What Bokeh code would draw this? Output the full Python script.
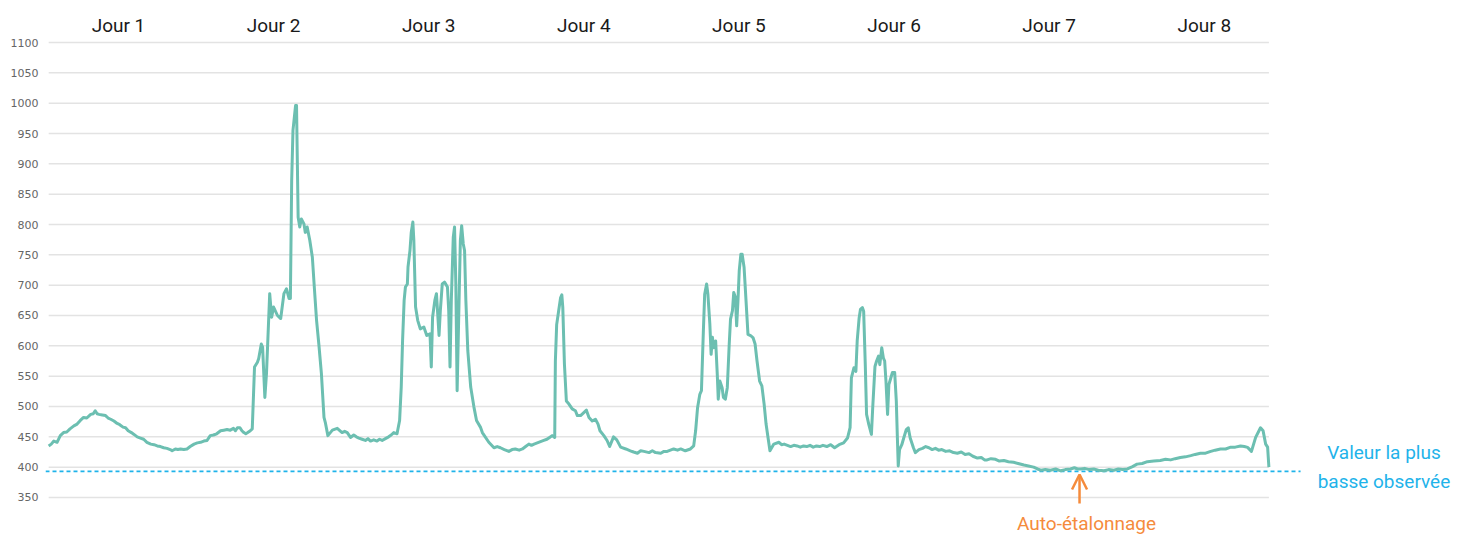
from bokeh.plotting import figure
from bokeh.models import Range1d, FixedTicker, Label, Arrow, OpenHead, ColumnDataSource
from bokeh.embed import file_html
from bokeh.resources import INLINE

# ---------------- data ----------------
day_labels = ["Jour 1", "Jour 2", "Jour 3", "Jour 4", "Jour 5", "Jour 6", "Jour 7", "Jour 8"]
day_centers = [12, 36, 60, 84, 108, 132, 156, 180]   # hours (middle of each day)
y_ticks = [350, 400, 450, 500, 550, 600, 650, 700, 750, 800, 850, 900, 950, 1000, 1050, 1100]

lowest_observed = 393
lowest_label = ["Valeur la plus", "basse observée"]
calibration_hour = 160.7
calibration_label = "Auto-étalonnage"

hours = [
    1.2, 1.6, 2.0, 2.5, 3.0, 3.5, 4.0, 4.5, 5.1, 5.6, 6.1, 6.6, 7.1, 7.7, 8.1, 8.4, 8.7, 9.0, 9.5, 10.0,
    10.4, 10.8, 11.3, 11.8, 12.2, 12.7, 13.1, 13.5, 14.0, 14.4, 14.9, 15.4, 15.9, 16.4, 17.0, 17.5, 18.0,
    18.5, 19.0, 19.5, 20.0, 20.3, 20.8, 21.2, 21.6, 22.1, 22.6, 23.1, 23.7, 24.2, 24.7, 25.2, 25.7, 26.2,
    26.7, 27.2, 27.8, 28.3, 28.8, 29.3, 29.8, 30.1, 30.4, 30.8, 31.1, 31.4, 31.7, 32.0, 32.4, 32.7,
    33.05, 33.5, 33.7, 34.1, 34.3, 34.65, 34.9, 35.4, 35.7, 36.0, 36.6, 37.1, 37.6, 38.0, 38.4, 38.6,
    38.8, 39.0, 39.4, 39.55, 39.8, 40.05, 40.3, 40.7, 40.9, 41.2, 41.6, 42.0, 42.3, 42.65, 43.0, 43.4,
    43.8, 44.0, 44.4, 45.1, 45.85, 46.6, 47.0, 47.4, 47.9, 48.4, 48.8, 49.2, 49.7, 50.2, 50.6, 51.0,
    51.5, 52.0, 52.4, 52.8, 53.3, 53.8, 54.2, 54.6, 55.1,
    55.5, 55.75, 55.96, 56.2, 56.4, 56.7, 56.8, 57.1, 57.3, 57.55, 57.7, 57.97, 58.3, 58.7, 59.25, 59.7,
    60.2, 60.4, 60.6, 60.95, 61.2, 61.6, 61.8, 62.1, 62.45, 62.9, 63.1, 63.3, 63.5, 63.8, 64.0, 64.2,
    64.4, 64.7, 64.9, 65.1, 65.35, 65.55, 65.75, 66.05, 66.5, 67.0, 67.4, 68.0, 68.3, 69.3, 70.1, 70.6,
    71.1, 71.7, 72.4, 72.9, 73.4, 74.0, 74.5, 75.0, 75.5, 75.9, 76.3, 76.8, 77.3, 77.8, 78.3, 78.7,
    79.1, 79.5,
    79.6, 79.8, 80.1, 80.4, 80.6, 80.75, 81.0, 81.3, 81.7, 82.2, 82.7, 83.0, 83.5, 84.0, 84.4, 84.8,
    85.3, 85.8, 86.2, 86.5, 87.1, 87.6, 88.0, 88.6, 89.1, 89.7, 90.5, 91.2, 91.7, 92.3, 92.8, 93.3,
    94.1, 94.6, 95.1, 95.9, 96.4, 96.9, 97.4, 97.9, 98.5, 99.0, 99.7, 100.5, 101.0,
    101.3, 101.6, 101.95, 102.2, 102.5, 102.7, 103.0, 103.2, 103.5, 103.7, 103.9, 104.1, 104.4, 104.65,
    104.8, 105.05, 105.4, 105.6, 105.9, 106.2, 106.5, 106.7, 107.0, 107.2, 107.45, 107.65, 107.85,
    108.05, 108.3, 108.5, 108.8, 109.1, 109.4, 109.8, 110.2, 110.5, 110.8, 111.2, 111.55, 111.9, 112.2,
    112.5, 112.8, 113.4, 114.2, 114.6, 115.0, 115.5, 116.0, 116.5, 117.0, 117.5, 118.0, 118.5, 119.0,
    119.5, 120.0, 120.5, 121.0, 121.6, 122.2, 122.8, 123.5, 124.2, 124.8, 125.2,
    125.4, 125.8, 126.1, 126.3, 126.6, 126.8, 127.1, 127.3, 127.55, 127.75, 128.1, 128.5, 128.7, 129.05,
    129.3, 129.6, 129.8, 130.1, 130.35, 130.55, 130.75, 131.0, 131.2, 131.5, 131.75, 132.1, 132.35,
    132.5, 132.65, 132.85, 133.2, 133.5, 133.9, 134.2, 134.5, 135.0, 135.3, 135.85, 136.4, 136.9, 137.4,
    137.9, 138.4, 138.9, 139.4, 140.0, 140.6, 141.2, 141.8, 142.4, 143.0, 143.6, 144.2, 144.9, 145.5,
    146.0, 146.4, 147.0, 147.7, 148.3, 149.0, 149.7, 150.5, 151.2, 152.1, 152.8, 153.6, 154.2, 154.7,
    155.4, 156.2, 157.0, 157.8, 158.5, 159.3, 159.9, 160.4, 160.9, 161.5, 162.2, 162.9, 163.6, 164.5,
    165.2, 166.0, 166.7, 167.4, 168.1, 168.9, 169.6, 170.4, 171.2, 172.2, 173.2, 174.0, 174.8, 175.5,
    176.3, 177.1, 177.9, 178.6, 179.4, 180.2, 181.0, 181.7, 182.5, 183.3, 184.1, 184.8, 185.6, 186.2,
    186.7, 187.3, 187.95, 188.7, 189.1, 189.5, 189.8, 190.0,
]

co2 = [
    435, 438, 443, 441, 452, 457, 458, 463, 468, 471, 477, 482, 481, 487, 488, 493, 488, 487, 486, 485,
    481, 479, 476, 472, 470, 466, 465, 460, 457, 454, 450, 448, 446, 441, 438, 437, 435,
    434, 432, 431, 429, 427, 430, 429, 430, 429, 430, 434, 438, 440, 441, 443, 444, 452,
    453, 455, 460, 461, 462, 461, 464, 460, 465, 465, 460, 457, 455, 457, 460, 463,
    565, 573, 579, 603, 598, 515, 554, 686, 647, 664, 650, 645, 686, 694, 678, 678,
    872, 955, 996, 996, 812, 796, 809, 801, 787, 796, 774, 746, 697, 642, 603, 554,
    482, 474, 452, 461, 464, 457, 459, 457, 449, 453, 450, 448, 446, 444, 447, 443,
    445, 443, 446, 444, 447, 450, 453, 457, 455,
    477, 532, 609, 675, 697, 702, 730, 757, 787, 804, 774, 664, 642, 628, 631, 617,
    620, 565, 647, 675, 686, 617, 658, 702, 705, 697, 658, 565, 675, 779, 796, 702,
    526, 675, 774, 798, 768, 757, 675, 592, 532, 499, 477, 466, 457, 441, 432, 434,
    432, 429, 426, 429, 430, 428, 430, 434, 438, 436, 438, 440, 442, 444, 446, 449,
    452, 449,
    575, 635, 657, 679, 684, 663, 570, 509, 504, 496, 493, 485, 485, 490, 494, 482,
    476, 479, 471, 460, 452, 444, 434, 450, 445, 433, 430, 427, 425, 423, 427, 426,
    424, 427, 424, 423, 426, 426, 428, 430, 428, 430, 427, 430, 435,
    460, 498, 520, 526, 625, 685, 702, 685, 636, 586, 614, 597, 608, 553,
    512, 542, 531, 515, 512, 531, 603, 644, 658, 688, 680, 633, 674,
    724, 751, 751, 729, 674, 619, 617, 613, 603, 575, 542, 534, 504, 471,
    449, 427, 438, 441, 437, 438, 436, 434, 436, 435, 433, 435, 434, 436,
    433, 435, 434, 436, 434, 437, 432, 437, 440, 448, 465,
    547, 564, 558, 608, 646, 660, 663, 657, 569, 487, 470, 454, 498, 566,
    575, 583, 569, 597, 580, 575, 542, 487, 536, 547, 556, 556, 509,
    454, 402, 429, 437, 448, 462, 465, 448, 432, 424, 429, 431, 434, 432,
    429, 431, 428, 429, 426, 427, 424, 423, 425, 421, 422, 418, 415, 416,
    412, 412, 414, 413, 410, 411, 409, 408, 406, 403.5, 402, 400, 397, 395,
    396, 395, 397, 394, 396, 397, 399, 397, 397, 398, 396, 397, 395, 394,
    396, 395, 397, 396, 397, 401, 405, 406, 409, 410, 411, 413, 412, 414,
    416, 417, 419, 421, 423, 423, 426, 428, 430, 430, 433, 433, 435, 434,
    432.6, 426, 449, 465, 460, 438, 433, 400,
]

# ---------------- styles ----------------
LINE_COLOR = "#6cbfb1"
GRID_COLOR = "#e3e3e3"
BLUE = "#1fb3ea"
ORANGE = "#f58b3c"
FONT = "Roboto"

x_start, x_end = 0.71, 219.8
y_start, y_end = 289.0, 1106.6

p = figure(width=1461, height=534, output_backend="svg", toolbar_location=None,
           x_range=Range1d(x_start, x_end), y_range=Range1d(y_start, y_end),
           x_axis_location="above",
           min_border_left=45, min_border_right=0, min_border_top=38, min_border_bottom=0)
p.outline_line_color = None
p.xgrid.visible = False
p.ygrid.visible = False

# top axis: day labels
xa = p.xaxis[0]
xa.ticker = FixedTicker(ticks=day_centers)
xa.major_label_overrides = {c: lab for c, lab in zip(day_centers, day_labels)}
xa.axis_line_color = None
xa.major_tick_line_color = None
xa.minor_tick_line_color = None
xa.major_tick_out = 0
xa.major_tick_in = 0
xa.major_label_standoff = 2
xa.major_label_text_font = FONT
xa.major_label_text_font_size = "19px"
xa.major_label_text_color = "#1a1a1a"

# left axis
ya = p.yaxis[0]
ya.ticker = FixedTicker(ticks=y_ticks)
ya.axis_line_color = None
ya.major_tick_line_color = None
ya.minor_tick_line_color = None
ya.major_tick_out = 0
ya.major_tick_in = 0
ya.major_label_standoff = 7
ya.major_label_text_font = "DejaVu Sans"
ya.major_label_text_font_size = "11px"
ya.major_label_text_color = "#666666"

# horizontal grid lines spanning the data period
grid_src = ColumnDataSource(dict(y=y_ticks, x0=[hours[0]] * len(y_ticks), x1=[hours[-1]] * len(y_ticks)))
p.segment(x0="x0", y0="y", x1="x1", y1="y", source=grid_src, line_color=GRID_COLOR, line_width=1.5)

# lowest observed value (dashed)
p.segment(x0=[x_start], y0=[lowest_observed], x1=[194.9], y1=[lowest_observed],
          line_color=BLUE, line_width=1.6, line_dash="4 3")

# data line
p.line(hours, co2, line_color=LINE_COLOR, line_width=3, line_join="round")

# annotations
p.add_layout(Label(x=207.8, y=lowest_observed, text=lowest_label[0], text_font=FONT,
                   text_font_size="19px", text_color=BLUE, text_align="center",
                   text_baseline="middle", y_offset=19))
p.add_layout(Label(x=207.8, y=lowest_observed, text=lowest_label[1], text_font=FONT,
                   text_font_size="19px", text_color=BLUE, text_align="center",
                   text_baseline="middle", y_offset=-10))
p.add_layout(Arrow(end=OpenHead(size=15, line_color=ORANGE, line_width=2.5),
                   x_start=calibration_hour, y_start=340, x_end=calibration_hour, y_end=388,
                   line_color=ORANGE, line_width=2.5))
p.add_layout(Label(x=calibration_hour, y=y_start, text=calibration_label, text_font=FONT,
                   text_font_size="19px", text_color=ORANGE, text_align="center",
                   text_baseline="alphabetic", x_offset=7, y_offset=11))

open("out.html", "w").write(file_html(p, INLINE))
